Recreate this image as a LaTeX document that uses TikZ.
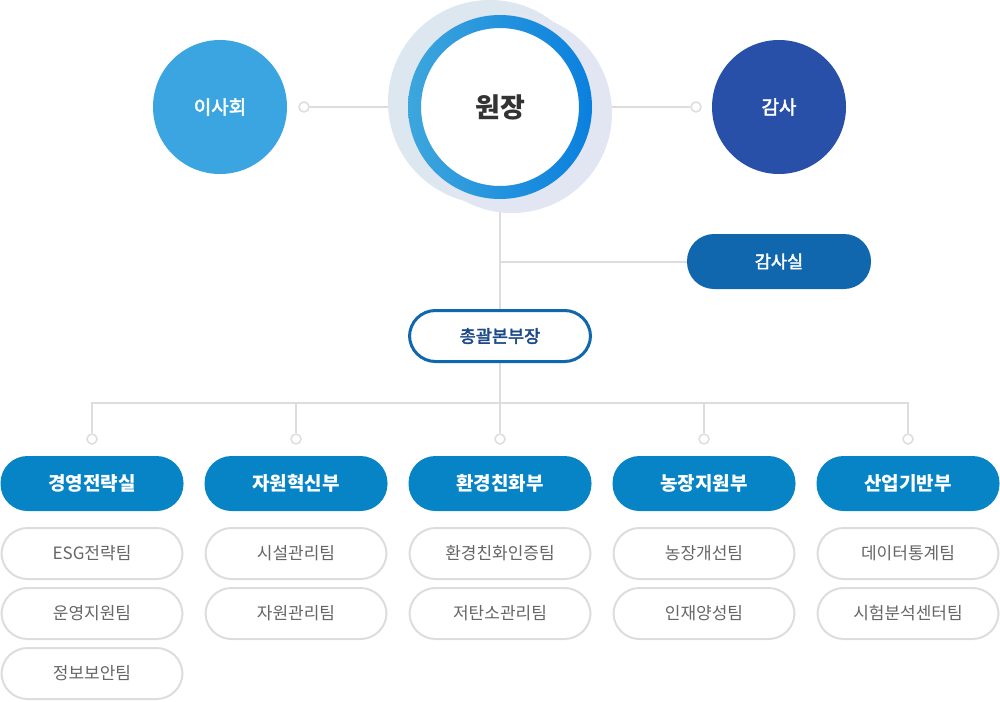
\documentclass[tikz,border=0pt]{standalone}
\usepackage{fontspec}
\setmainfont{Noto Sans CJK KR}
\newfontfamily\krmed{Noto Sans CJK KR}[RawFeature={embolden=2.5}]
\usetikzlibrary{positioning, backgrounds, calc}
\definecolor{boardc}{HTML}{3AA5E0}
\definecolor{auditc}{HTML}{2950A8}
\definecolor{officec}{HTML}{1067AE}
\definecolor{chieft}{HTML}{1B4A86}
\definecolor{deptc}{HTML}{0684C5}
\definecolor{lineg}{HTML}{DDDDDD}
\definecolor{teamt}{HTML}{666666}
\definecolor{headt}{HTML}{333333}
\definecolor{backa}{HTML}{DCE7EF}
\definecolor{backb}{HTML}{E1E6F2}
\definecolor{ringa}{HTML}{3DA6DD}
\definecolor{ringb}{HTML}{0A80DE}
\tikzset{
    conn/.style={draw=lineg, line width=2pt},
    pin/.style={circle, draw=lineg, line width=1.5pt, fill=white, inner sep=0pt, minimum size=10pt},
    person/.style={circle, inner sep=0pt, minimum size=134pt, text=white, font=\krmed\fontsize{19}{22}\selectfont},
    dept/.style={rectangle, rounded corners=27pt, fill=deptc, text=white, inner sep=0pt,
        minimum width=183pt, minimum height=55pt, font=\fontsize{19}{22}\selectfont\bfseries},
    team/.style={rectangle, rounded corners=26pt, draw=lineg, line width=2pt, fill=white, text=teamt,
        inner sep=0pt, minimum width=181pt, minimum height=51pt, font=\fontsize{17}{20}\selectfont}
}
\begin{document}
\begin{tikzpicture}[x=1pt, y=-1pt]
    \useasboundingbox (0,0) rectangle (1000,701);

    % Top row
    \node[person, fill=boardc] (board) at (220,107) {이사회};
    \node[person, fill=auditc] (auditor) at (779,107) {감사};
    \node[circle, fill=white, inner sep=0pt, minimum size=158pt, text=headt,
        font=\fontsize{27}{31}\selectfont\bfseries] (head) at (500,107) {원장};
    \shade[left color=ringa, right color=ringb, even odd rule]
        (head.center) circle (92pt) (head.center) circle (79pt);
    \node[pin] (pinL) at (304,107) {};
    \node[pin] (pinR) at (696,107) {};

    % Offices
    \node[rectangle, rounded corners=27pt, fill=officec, text=white, inner sep=0pt,
        minimum width=184pt, minimum height=55pt, font=\krmed\fontsize{17.5}{21}\selectfont] (office) at (779,261.5) {감사실};
    \node[rectangle, rounded corners=26pt, draw=officec, line width=3pt, fill=white, text=chieft, inner sep=0pt,
        minimum width=181pt, minimum height=51pt, font=\krmed\fontsize{17.5}{21}\selectfont] (chief) at (500,336) {총괄본부장};

    % Departments
    \foreach \x/\name [count=\i] in {92/경영전략실, 296/자원혁신부, 500/환경친화부, 704/농장지원부, 908/산업기반부} {
        \node[dept] (dept\i) at (\x,483.5) {\name};
        \node[pin] (pin\i) at (\x,439) {};
    }

    % Teams
    \foreach \i/\j/\name in {1/1/ESG전략팀, 1/2/운영지원팀, 1/3/정보보안팀, 2/1/시설관리팀, 2/2/자원관리팀,
            3/1/환경친화인증팀, 3/2/저탄소관리팀, 4/1/농장개선팀, 4/2/인재양성팀, 5/1/데이터통계팀, 5/2/시험분석센터팀} {
        \node[team] (team\i-\j) at ($(dept\i.center)+(0,{10+60*\j})$) {\name};
    }

    % Connectors and back circles
    \begin{scope}[on background layer]
        \draw[conn] (pinL) -- (head);
        \draw[conn] (head) -- (pinR);
        \draw[conn] (head) -- (chief);
        \draw[conn] (head |- office) -- (office.west);
        \foreach \i in {1,...,5} {
            \draw[conn] (chief.south) -- ++(0,40) -| (pin\i);
        }
        \fill[backa] (490,102) circle (102pt);
        \fill[backb] (512,113) circle (100pt);
    \end{scope}
\end{tikzpicture}
\end{document}
